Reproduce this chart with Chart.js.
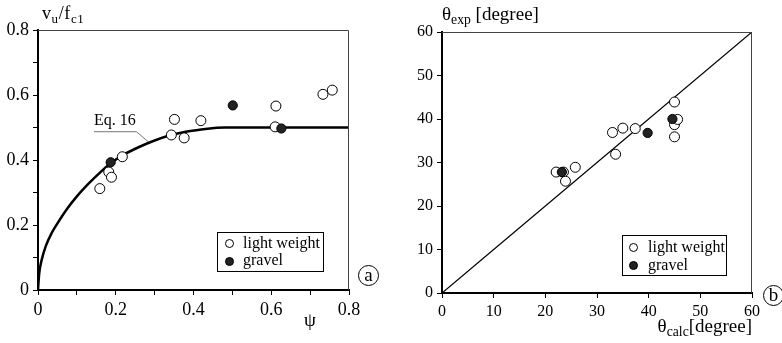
<!DOCTYPE html>
<html>
<head>
<meta charset="utf-8">
<script src="https://cdn.jsdelivr.net/npm/chart.js@4.4.1/dist/chart.umd.min.js"></script>
<style>
  body { margin: 0; background: #fff; }
  #wrap { position: relative; width: 782px; height: 343px; overflow: hidden; font-family: 'Liberation Serif', serif; color: #000; }
  canvas { position: absolute; top: 0; }
  .t { position: absolute; white-space: nowrap; line-height: 1; }
  .sub { font-size: 0.72em; position: relative; top: 0.3em; }
  .legend { position: absolute; border: 1px solid #000; background: #fff; font-size: 16px; }
  .legend .dot { position: absolute; width: 9px; height: 9px; border-radius: 50%; border: 1px solid #000; box-sizing: border-box; }
  .legend .lbl { position: absolute; line-height: 1; white-space: nowrap; }
  .badge { position: absolute; width: 21px; height: 21px; border: 1.3px solid #000; border-radius: 50%; box-sizing: border-box;
           font-size: 19px; line-height: 17px; text-align: center; }
</style>
</head>
<body>
<div id="wrap">
  <canvas id="chartA" width="390" height="343" style="left:0"></canvas>
  <canvas id="chartB" width="392" height="343" style="left:390px"></canvas>

  <div class="t" style="left:42px;top:4px;font-size:18px;letter-spacing:0.6px">v<span class="sub">u</span>/f<span class="sub">c1</span></div>
  <div class="t" style="left:304px;top:310px;font-size:19px">ψ</div>
  <div class="t" style="left:94px;top:112px;font-size:16px">Eq. 16</div>
  <div class="badge" style="left:358px;top:265px">a</div>
  <div class="legend" style="left:217px;top:232px;width:105px;height:38px">
    <div class="dot" style="left:7px;top:6px;background:#fff"></div>
    <div class="lbl" style="left:25px;top:2px">light weight</div>
    <div class="dot" style="left:7px;top:24px;background:#222"></div>
    <div class="lbl" style="left:25px;top:19px">gravel</div>
  </div>

  <div class="t" style="left:442px;top:4px;font-size:19px">θ<span class="sub">exp</span> [degree]</div>
  <div class="t" style="right:30px;top:316px;font-size:19px">θ<span class="sub">calc</span>[degree]</div>
  <div class="badge" style="left:763px;top:285px">b</div>
  <div class="legend" style="left:622px;top:235px;width:103px;height:39px">
    <div class="dot" style="left:6px;top:7px;background:#fff"></div>
    <div class="lbl" style="left:25px;top:3px">light weight</div>
    <div class="dot" style="left:6px;top:25px;background:#222"></div>
    <div class="lbl" style="left:25px;top:21px">gravel</div>
  </div>
</div>

<script>
// (a) shear strength vs psi
const psiCurve  = [0, 0.003, 0.01, 0.02, 0.035, 0.05, 0.075, 0.1, 0.13, 0.16, 0.19, 0.22, 0.26, 0.3, 0.34, 0.38, 0.42, 0.46, 0.48, 0.8];
const vuCurve   = [0, 0.05, 0.095, 0.135, 0.175, 0.205, 0.25, 0.288, 0.327, 0.362, 0.393, 0.416, 0.44, 0.46, 0.476, 0.487, 0.494, 0.499, 0.5, 0.5];
const psiLight  = [0.159, 0.182, 0.189, 0.217, 0.343, 0.351, 0.376, 0.419, 0.612, 0.610, 0.733, 0.757];
const vuLight   = [0.312, 0.363, 0.347, 0.410, 0.477, 0.525, 0.468, 0.521, 0.566, 0.502, 0.602, 0.615];
const psiGravel = [0.187, 0.501, 0.626];
const vuGravel  = [0.393, 0.568, 0.497];
const eqLeaderX = [0.144, 0.253, 0.287];
const eqLeaderY = [0.487, 0.487, 0.453];

// (b) crack angle, measured vs calculated
const calcLight  = [22.1, 23.5, 23.9, 25.8, 33.0, 33.6, 35.0, 37.4, 45.0, 45.0, 45.6, 45.0];
const expLight   = [27.8, 27.8, 25.7, 28.9, 36.9, 31.9, 37.9, 37.8, 43.9, 38.7, 39.9, 35.9];
const calcGravel = [23.2, 39.8, 44.6];
const expGravel  = [27.8, 36.8, 40.0];
const diagX = [0, 60];
const diagY = [0, 60];

const pts = (xs, ys) => xs.map((x, i) => ({ x: x, y: ys[i] }));

Chart.defaults.font.family = "'Liberation Serif', serif";
Chart.defaults.color = '#000';

// thin frame on top and right of the plot area
const framePlugin = {
  id: 'frame',
  afterDraw(chart) {
    const { ctx, chartArea: a } = chart;
    ctx.save();
    ctx.strokeStyle = '#444';
    ctx.lineWidth = 1;
    ctx.beginPath();
    ctx.moveTo(a.left, a.top + 0.5);
    ctx.lineTo(a.right - 0.5, a.top + 0.5);
    ctx.lineTo(a.right - 0.5, a.bottom);
    ctx.stroke();
    ctx.restore();
  }
};

function axis(min, max, step, size, fmt, fit) {
  return {
    type: 'linear', min: min, max: max,
    grid: { drawOnChartArea: false, drawTicks: true, tickLength: 5, color: '#000', lineWidth: 1 },
    border: { display: true, color: '#000', width: 2 },
    ticks: { stepSize: step, autoSkip: false, maxRotation: 0, padding: 4, font: { size: size }, callback: fmt },
    afterFit: fit
  };
}

const markerOpen   = { backgroundColor: '#fff', borderColor: '#000', borderWidth: 1, pointRadius: 5 };
const markerFilled = { backgroundColor: '#222', borderColor: '#000', borderWidth: 1, pointRadius: 4.6 };

const fmtA = v => {
  const k = Math.round(v * 10);
  if (k % 2 !== 0) return '';
  return k === 0 ? '0' : (k / 10).toFixed(1);
};

new Chart(document.getElementById('chartA'), {
  type: 'scatter',
  data: {
    datasets: [
      { data: pts(psiGravel, vuGravel), ...markerFilled },
      { data: pts(psiLight, vuLight), ...markerOpen },
      { data: pts(psiCurve, vuCurve), showLine: true, borderColor: '#000', borderWidth: 2.5,
        pointRadius: 0, cubicInterpolationMode: 'monotone' },
      { data: pts(eqLeaderX, eqLeaderY), showLine: true, borderColor: '#777', borderWidth: 1, pointRadius: 0 }
    ]
  },
  options: {
    responsive: false,
    animation: false,
    layout: { padding: { left: 0, top: 30, right: 41, bottom: 0 } },
    plugins: { legend: { display: false }, tooltip: { enabled: false } },
    scales: {
      x: axis(0, 0.8, 0.1, 18, fmtA, s => { s.height = 53; }),
      y: axis(0, 0.8, 0.1, 18, fmtA, s => { s.width = 38; })
    }
  },
  plugins: [framePlugin]
});

new Chart(document.getElementById('chartB'), {
  type: 'scatter',
  data: {
    datasets: [
      { data: pts(calcGravel, expGravel), ...markerFilled },
      { data: pts(calcLight, expLight), ...markerOpen },
      { data: pts(diagX, diagY), showLine: true, borderColor: '#000', borderWidth: 1.3, pointRadius: 0 }
    ]
  },
  options: {
    responsive: false,
    animation: false,
    layout: { padding: { left: 0, top: 32, right: 30, bottom: 0 } },
    plugins: { legend: { display: false }, tooltip: { enabled: false } },
    scales: {
      x: axis(0, 60, 10, 16, v => String(v), s => { s.height = 50; }),
      y: axis(0, 60, 10, 16, v => String(v), s => { s.width = 52; })
    }
  },
  plugins: [framePlugin]
});
</script>
</body>
</html>
